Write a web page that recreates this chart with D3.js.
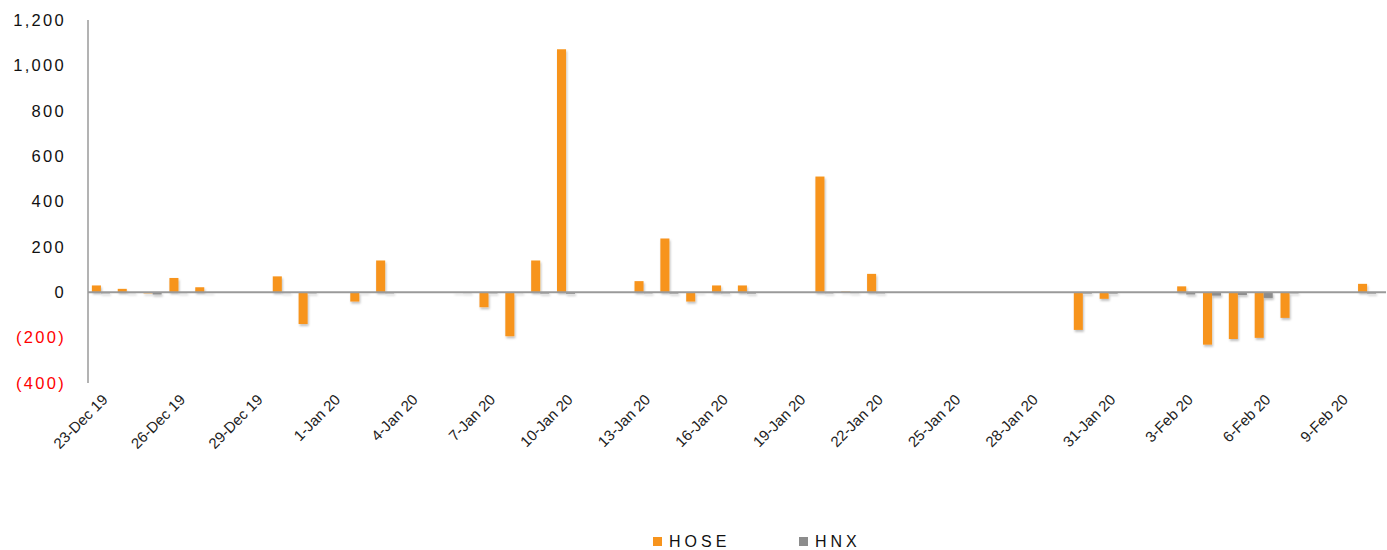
<!DOCTYPE html>
<html>
<head>
<meta charset="utf-8">
<script src="https://cdn.jsdelivr.net/npm/d3@7"></script>
<style>
  html, body { margin: 0; padding: 0; background: #ffffff; }
  svg { display: block; font-family: "Liberation Sans", Arial, sans-serif; }
</style>
</head>
<body>
<svg id="chart" width="1387" height="550"></svg>
<script>
// Trading days with net foreign flows, in VND bn
const tradingDays = [
  "2019-12-23","2019-12-24","2019-12-25","2019-12-26","2019-12-27","2019-12-30","2019-12-31",
  "2020-01-02","2020-01-03","2020-01-06","2020-01-07","2020-01-08","2020-01-09","2020-01-10",
  "2020-01-13","2020-01-14","2020-01-15","2020-01-16","2020-01-17","2020-01-20","2020-01-21","2020-01-22",
  "2020-01-30","2020-01-31","2020-02-03","2020-02-04","2020-02-05","2020-02-06","2020-02-07","2020-02-10"
];
const hoseValues = [
  30, 15, -5, 63, 22, 70, -140,
  -41, 140, -3, -66, -194, 140, 1071,
  49, 237, -41, 30, 30, 510, 3, 81,
  -166, -29, 26, -231, -206, -201, -113, 37
];
const hnxValues = [
  -5, -4, -10, -4, -3, -4, -5,
  -3, -5, -4, -5, -4, -6, -7,
  -5, -6, -3, -5, -6, -5, -4, -5,
  -6, -6, -10, -15, -12, -25, -5, -6
];
const seriesNames = ["HOSE", "HNX"];
const seriesColors = ["#F7941D", "#8C8C8C"];
const yTicks = [-400, -200, 0, 200, 400, 600, 800, 1000, 1200];
const axisStart = "2019-12-23";
const axisEnd = "2020-02-10";
const labelEvery = 3;

(function draw() {
  const svg = d3.select("#chart");
  const parse = d3.timeParse("%Y-%m-%d");
  const fmtDay = d3.timeFormat("%-d-%b %y");
  const dayKey = d3.timeFormat("%Y-%m-%d");

  // every calendar day on the axis, one band per day
  const allDays = d3.timeDay.range(parse(axisStart), d3.timeDay.offset(parse(axisEnd), 1));

  const plotLeft = 88, plotRight = 1380, plotTop = 20, plotBottom = 383;

  const x = d3.scaleBand().domain(allDays.map(dayKey)).range([plotLeft, plotRight]).padding(0);
  const xs = d3.scaleBand().domain(seriesNames).range([0, x.bandwidth()]).paddingInner(0).paddingOuter(0.43);
  const y = d3.scaleLinear().domain([-400, 1200]).range([plotBottom, plotTop]);

  const rows = tradingDays.map((d, i) => ({ day: d, HOSE: hoseValues[i], HNX: hnxValues[i] }));

  // soft shadow under bars
  const defs = svg.append("defs");
  const f = defs.append("filter").attr("id", "shadow")
    .attr("x", "-50%").attr("y", "-20%").attr("width", "200%").attr("height", "140%");
  f.append("feDropShadow").attr("dx", 1).attr("dy", 2).attr("stdDeviation", 1.2)
    .attr("flood-color", "#000").attr("flood-opacity", 0.25);

  // y axis labels
  const fmtVal = v => v < 0 ? "(" + d3.format(",")(-v) + ")" : d3.format(",")(v);
  svg.append("g").selectAll("text").data(yTicks).join("text")
    .attr("x", 66).attr("y", d => y(d)).attr("dy", "0.35em")
    .attr("text-anchor", "end")
    .attr("font-size", 16.5).attr("letter-spacing", 2.3)
    .attr("fill", d => d < 0 ? "#FF0000" : "#111")
    .text(fmtVal);

  // bars
  const gBars = svg.append("g").attr("filter", "url(#shadow)");
  seriesNames.forEach((s, si) => {
    gBars.append("g").selectAll("rect").data(rows).join("rect")
      .attr("x", d => x(d.day) + xs(s))
      .attr("width", xs.bandwidth())
      .attr("y", d => y(Math.max(0, d[s])))
      .attr("height", d => Math.abs(y(d[s]) - y(0)))
      .attr("fill", seriesColors[si]);
  });

  // axis lines
  svg.append("line").attr("x1", plotLeft).attr("x2", plotLeft).attr("y1", plotTop).attr("y2", plotBottom)
    .attr("stroke", "#9a9a9a").attr("stroke-width", 1.5);
  svg.append("line").attr("x1", plotLeft).attr("x2", 1386).attr("y1", y(0)).attr("y2", y(0))
    .attr("stroke", "#9a9a9a").attr("stroke-width", 2);

  // date labels, every third day, rotated
  const labelDays = allDays.filter((d, i) => i % labelEvery === 0);
  svg.append("g").selectAll("text").data(labelDays).join("text")
    .attr("transform", d => `translate(${x(dayKey(d)) + x.bandwidth() / 2 + 4},397) rotate(-45)`)
    .attr("text-anchor", "end")
    .attr("dy", "0.35em")
    .attr("font-size", 15).attr("letter-spacing", 0)
    .attr("fill", "#222")
    .text(fmtDay);

  // legend
  const legend = svg.append("g");
  const legendItems = [
    { name: seriesNames[0], color: seriesColors[0], x: 653 },
    { name: seriesNames[1], color: seriesColors[1], x: 799 }
  ];
  legendItems.forEach(it => {
    legend.append("rect").attr("x", it.x).attr("y", 537).attr("width", 9).attr("height", 9).attr("fill", it.color);
    legend.append("text").attr("x", it.x + 16).attr("y", 541.5).attr("dy", "0.35em")
      .attr("font-size", 16).attr("letter-spacing", 4).attr("fill", "#111").text(it.name);
  });
})();
</script>
</body>
</html>
